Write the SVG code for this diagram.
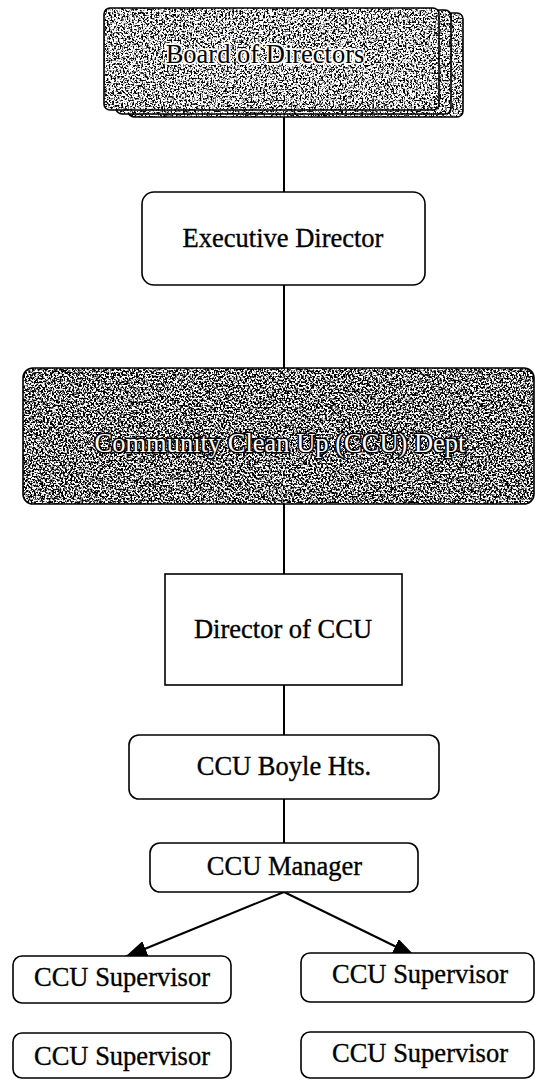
<svg xmlns="http://www.w3.org/2000/svg" width="535" height="1080" viewBox="0 0 535 1080">
<style>
  .box{fill:#fff;stroke:#000;stroke-width:1.6}
  .lbl{font-family:"Liberation Serif","Times New Roman",serif;font-size:26.5px;fill:#000;text-anchor:middle;stroke:#000;stroke-width:0.35}
  .halo{paint-order:stroke;stroke:#fff;stroke-width:3.5;stroke-linejoin:round}
  .hollow{fill:#fff;paint-order:stroke;stroke:#000;stroke-width:3;stroke-linejoin:round}
  .conn{stroke:#000;stroke-width:2;fill:none}
</style>
<defs>
  <filter id="grain" x="0" y="0" width="100%" height="100%">
    <feTurbulence type="fractalNoise" baseFrequency="0.55" numOctaves="2" seed="4" result="n"/>
    <feColorMatrix in="n" type="matrix" values="0 0 0 0 0  0 0 0 0 0  0 0 0 0 0  7 0 0 0 -3.3" result="dots"/>
    <feComposite in="dots" in2="SourceGraphic" operator="in"/>
  </filter>
  <filter id="grainDark" x="0" y="0" width="100%" height="100%">
    <feTurbulence type="fractalNoise" baseFrequency="0.55" numOctaves="2" seed="7" result="n"/>
    <feColorMatrix in="n" type="matrix" values="0 0 0 0 0  0 0 0 0 0  0 0 0 0 0  7 0 0 0 -3.0" result="dots"/>
    <feComposite in="dots" in2="SourceGraphic" operator="in"/>
  </filter>
  <marker id="ah" viewBox="0 0 22 16" refX="22" refY="8" markerWidth="22" markerHeight="16" markerUnits="userSpaceOnUse" orient="auto">
    <path d="M0,0 L22,8 L0,16 z" fill="#000"/>
  </marker>
</defs>

<g id="connectors">
  <line class="conn" x1="284" y1="110" x2="284" y2="192"/>
  <line class="conn" x1="284" y1="285" x2="284" y2="368"/>
  <line class="conn" x1="284" y1="504" x2="284" y2="574"/>
  <line class="conn" x1="284" y1="685" x2="284" y2="735"/>
  <line class="conn" x1="284" y1="799" x2="284" y2="843"/>
  <line class="conn" x1="284" y1="892" x2="125" y2="957" marker-end="url(#ah)"/>
  <line class="conn" x1="284" y1="892" x2="415" y2="956" marker-end="url(#ah)"/>
</g>

<g id="board">
  <rect x="128" y="13" width="335" height="104" rx="6" fill="#fff" stroke="#000" stroke-width="1.6"/>
  <rect x="128" y="13" width="335" height="104" rx="6" fill="#000" filter="url(#grain)"/>
  <rect x="116" y="10" width="335" height="104" rx="6" fill="#fff" stroke="#000" stroke-width="1.6"/>
  <rect x="116" y="10" width="335" height="104" rx="6" fill="#000" filter="url(#grain)"/>
  <rect x="104" y="8" width="335" height="102" rx="6" fill="#fff" stroke="#000" stroke-width="1.6"/>
  <rect x="104" y="8" width="335" height="102" rx="6" fill="#000" filter="url(#grain)"/>
  <text class="lbl halo" x="265" y="63" font-size="27">Board of Directors</text>
</g>

<g id="exec">
  <rect class="box" x="142" y="192" width="283" height="93" rx="12"/>
  <text class="lbl" x="283" y="247" font-size="27">Executive Director</text>
</g>

<g id="dept">
  <rect x="23" y="368" width="511" height="136" rx="10" fill="#fff" stroke="#000" stroke-width="1.6"/>
  <rect x="23" y="368" width="511" height="136" rx="10" fill="#000" filter="url(#grainDark)"/>
  <text class="lbl hollow" x="280" y="452" font-size="27">Community Clean Up (CCU) Dept</text>
</g>

<g id="director">
  <rect class="box" x="165" y="574" width="237" height="111"/>
  <text class="lbl" x="283" y="638">Director of CCU</text>
</g>

<g id="boyle">
  <rect class="box" x="129" y="735" width="310" height="64" rx="10"/>
  <text class="lbl" x="284" y="775">CCU Boyle Hts.</text>
</g>

<g id="manager">
  <rect class="box" x="150" y="843" width="268" height="49" rx="10"/>
  <text class="lbl" x="284.5" y="875">CCU Manager</text>
</g>

<g id="sup1">
  <rect class="box" x="13" y="956" width="218" height="47" rx="9"/>
  <text class="lbl" x="122" y="986">CCU Supervisor</text>
</g>

<g id="sup2">
  <rect class="box" x="301" y="953" width="233" height="49" rx="9"/>
  <text class="lbl" x="420" y="983">CCU Supervisor</text>
</g>

<g id="sup3">
  <rect class="box" x="13" y="1033" width="218" height="45" rx="9"/>
  <text class="lbl" x="122" y="1065">CCU Supervisor</text>
</g>

<g id="sup4">
  <rect class="box" x="301" y="1032" width="233" height="46" rx="9"/>
  <text class="lbl" x="420" y="1062">CCU Supervisor</text>
</g>
</svg>
